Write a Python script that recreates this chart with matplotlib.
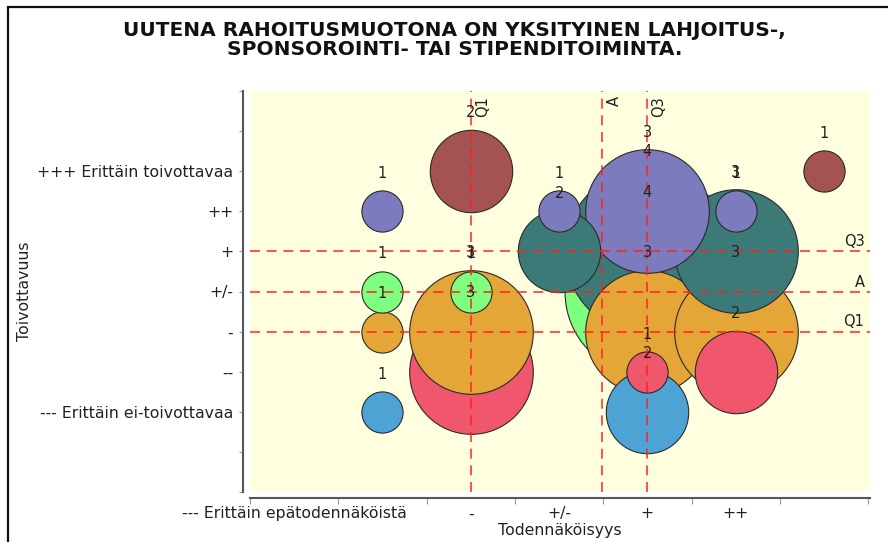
import numpy as np
import matplotlib
matplotlib.use("Agg")
import matplotlib.pyplot as plt
from matplotlib.patches import Rectangle

# ---------------- data ----------------
title = "UUTENA RAHOITUSMUOTONA ON YKSITYINEN LAHJOITUS-,\nSPONSOROINTI- TAI STIPENDITOIMINTA."
x_label = "Todennäköisyys"
y_label = "Toivottavuus"

y_tick_labels = ["--- Erittäin ei-toivottavaa", "--", "-", "+/-", "+", "++",
                 "+++ Erittäin toivottavaa"]
x_tick_labels = ["--- Erittäin epätodennäköistä", "-", "+/-", "+", "++"]
x_tick_label_pos = [0, 2, 3, 4, 5]

# bubbles: likelihood index (x), desirability index (y), count
bx = [2, 6,
      1, 3, 4, 5,
      3, 4, 5,
      1, 2, 4,
      1, 2, 4, 5,
      2, 4, 5,
      1, 4]
by = [6, 6,
      5, 5, 5, 5,
      4, 4, 4,
      3, 3, 3,
      2, 2, 2, 2,
      1, 1, 1,
      0, 0]
bcount = [2, 1,
          1, 1, 3, 1,
          2, 4, 3,
          1, 1, 4,
          1, 3, 3, 3,
          3, 1, 2,
          1, 2]

# colour per desirability level (index 0..6)
level_colors = ["#4DA3D4", "#F0566C", "#E4A636", "#7FFF7F", "#3C7A78",
                "#7B7BBD", "#A55252"]

# ---------------- statistics for reference lines ----------------
xs = np.repeat(bx, bcount)
ys = np.repeat(by, bcount)
x_q1, x_q3 = np.percentile(xs, 25), np.percentile(xs, 75)
y_q1, y_q3 = np.percentile(ys, 25), np.percentile(ys, 75)
x_a, y_a = xs.mean(), ys.mean()

# ---------------- figure ----------------
W, H, DPI = 888, 542, 100
fig = plt.figure(figsize=(W / DPI, H / DPI), dpi=DPI)
plt.rcParams['font.family'] = ['DejaVu Sans']

# outer frame
fig.patches.append(Rectangle((8 / W, -0.1), 1.2, 1 - 7 / H + 0.1,
                             transform=fig.transFigure, fill=False,
                             edgecolor="#111111", linewidth=1.6, zorder=0))

L, R, T, B = 250, 870, 91, 492
ax = fig.add_axes([L / W, 1 - B / H, (R - L) / W, (B - T) / H])
ax.set_facecolor("#FFFFE0")
ax.set_xlim(-0.5, 6.52)
ax.set_ylim(-2, 8)

for s in ["top", "right"]:
    ax.spines[s].set_visible(False)
ax.spines["left"].set_position(("outward", 5))
ax.spines["bottom"].set_position(("outward", 4.3))
for s in ["left", "bottom"]:
    ax.spines[s].set_color("#555555")
    ax.spines[s].set_linewidth(1.5)

TICK_FS = 11.3

# y ticks
ax.set_yticks(np.arange(-2, 9))
ylabels = [""] * 11
for i, t in enumerate(y_tick_labels):
    ylabels[i + 2] = t
ax.set_yticklabels(ylabels, fontsize=TICK_FS, color="#222222")
ax.tick_params(axis="y", length=3, width=0.8, color="#999999", pad=4)

# x ticks (boundaries) + category labels
ax.set_xticks(np.arange(-0.5, 7.0, 1.0))
ax.set_xticklabels([])
ax.tick_params(axis="x", length=4, width=0.8, color="#999999")
ax.set_xticks(x_tick_label_pos, minor=True)
ax.set_xticklabels(x_tick_labels, minor=True, fontsize=TICK_FS, color="#222222")
ax.tick_params(axis="x", which="minor", length=0, pad=6)

ax.set_xlabel(x_label, fontsize=TICK_FS, labelpad=1, color="#222222")
ax.set_ylabel(y_label, fontsize=TICK_FS, labelpad=4, color="#222222")

# bubbles: larger first, ties -> lower desirability first
px_per_pt = DPI / 72.0
r_px_unit = 20.6
order = sorted(range(len(bx)), key=lambda i: (-bcount[i], by[i]))
for i in order:
    d_pt = 2 * r_px_unit * bcount[i] / px_per_pt
    ax.scatter([bx[i]], [by[i]], s=d_pt ** 2, color=level_colors[by[i]],
               edgecolors="#2a2a2a", linewidths=0.8, zorder=2)

# reference lines
dash = dict(color="#FF2020", linewidth=1.2, linestyle=(0, (6, 4)), zorder=3,
            alpha=0.9)
for xv in [x_q1, x_a, x_q3]:
    ax.axvline(xv, **dash)
for yv in [y_q1, y_a, y_q3]:
    ax.axhline(yv, **dash)

for xv, lab in [(x_q1, "Q1"), (x_a, "A"), (x_q3, "Q3")]:
    ax.annotate(lab, xy=(xv, 1), xycoords=("data", "axes fraction"),
                xytext=(3, -3.5), textcoords="offset points", rotation=90,
                ha="left", va="top", fontsize=10.5, color="#222222", zorder=5)
for yv, lab in [(y_q3, "Q3"), (y_a, "A"), (y_q1, "Q1")]:
    ax.annotate(lab, xy=(1, yv), xycoords=("axes fraction", "data"),
                xytext=(-4, 2), textcoords="offset points",
                ha="right", va="bottom", fontsize=10.5, color="#222222", zorder=5)

# count labels above bubbles
for i in range(len(bx)):
    r_pt = r_px_unit * bcount[i] / px_per_pt
    ax.annotate(str(bcount[i]), xy=(bx[i], by[i]), xytext=(0, r_pt + 12.3),
                textcoords="offset points", ha="center", va="center",
                fontsize=10.5, color="#222222", zorder=6)

fig.text(0.512, 0.926, title, ha="center", va="center", fontsize=14.5,
         fontweight="bold", linespacing=1.0, color="#111111")

fig.savefig("out.png", dpi=DPI)
